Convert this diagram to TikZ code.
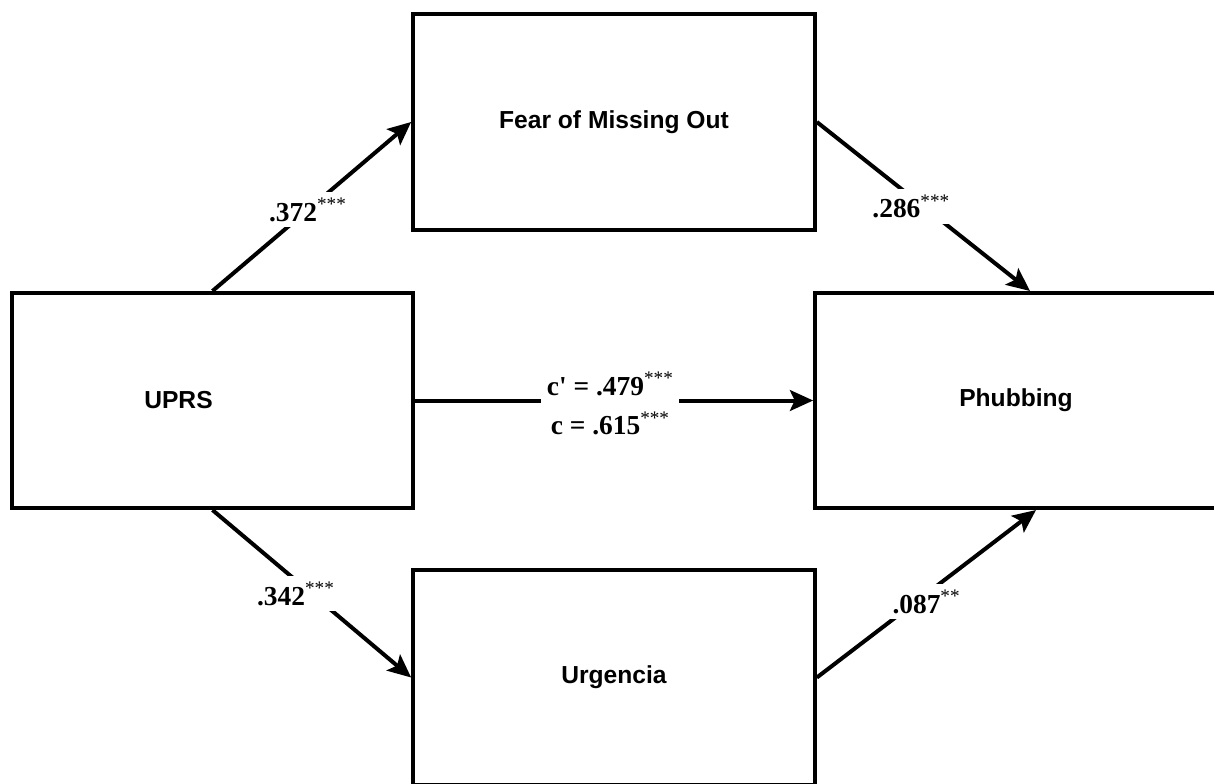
\documentclass[tikz,border=0pt]{standalone}
\usepackage{fontspec}
\setmainfont{Liberation Serif}
\setsansfont{Liberation Sans}
\usetikzlibrary{arrows.meta,positioning}

\begin{document}
\begin{tikzpicture}[x=0.025cm, y=-0.025cm,
  box/.style={draw, line width=0.1cm, minimum width=10.04cm, minimum height=5.375cm,
    font=\sffamily\bfseries\fontsize{17.5}{20}\selectfont},
  arr/.style={line width=0.1cm, -{Stealth[length=0.58cm, width=0.52cm, inset=0.12cm]}},
  lbl/.style={fill=white, inner sep=4pt, font=\bfseries\fontsize{19.5}{28}\selectfont}]

  \useasboundingbox (0,0) rectangle (1214,783);
  \clip (0,0) rectangle (1214,783);

  % Nodes
  \node[box] (uprs) at (212.5,400.5) {\hspace*{-1.7cm}UPRS};
  \node[box] (fomo) at (614,122) {Fear of Missing Out};
  \node[box] (phub) at (1016,400.5) {Phubbing};
  \node[box] (urg) at (614,677.5) {Urgencia};

  % Paths
  \draw[arr] (uprs.north) -- (fomo.west)
    node[lbl, pos=0.48] {.372\textsuperscript{\mdseries ***}};
  \draw[arr] (fomo.east) -- ([xshift=0.35cm]phub.north)
    node[lbl, pos=0.48, xshift=-0.2cm, yshift=-0.08cm] {.286\textsuperscript{\mdseries ***}};
  \draw[arr] (uprs) -- (phub)
    node[lbl, midway, xshift=-0.1cm, yshift=-0.08cm, align=center]
    {c\textquotesingle{} = .479\textsuperscript{\mdseries ***}\\ c = .615\textsuperscript{\mdseries ***}};
  \draw[arr] (uprs.south) -- (urg.west)
    node[lbl, pos=0.5, xshift=-0.4cm] {.342\textsuperscript{\mdseries ***}};
  \draw[arr] (urg.east) -- ([xshift=0.5cm]phub.south)
    node[lbl, pos=0.5, yshift=-0.2cm] {.087\textsuperscript{\mdseries **}};

\end{tikzpicture}
\end{document}
